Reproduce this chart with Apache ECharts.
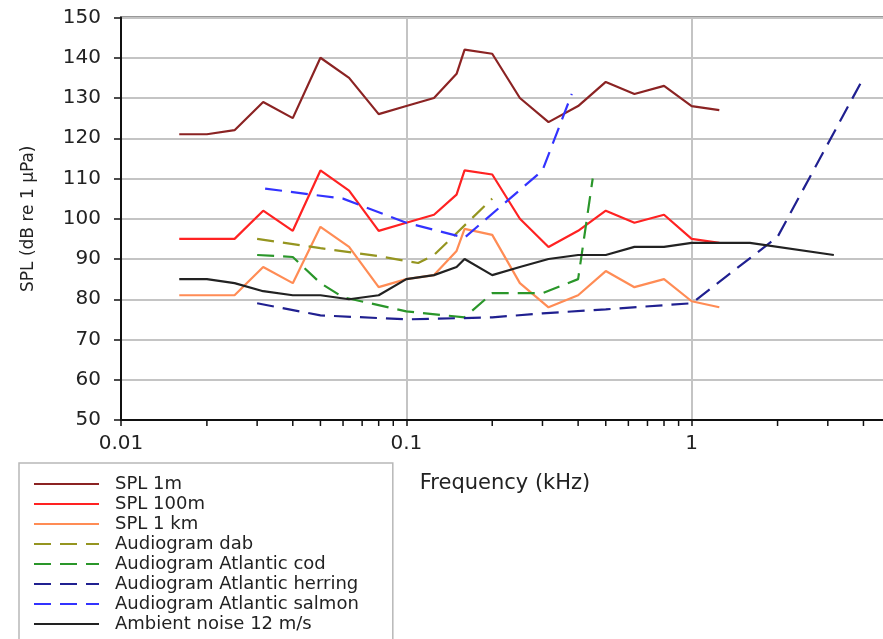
<!DOCTYPE html>
<html>
<head>
<meta charset="utf-8">
<script src="https://cdn.jsdelivr.net/npm/echarts@6/dist/echarts.min.js"></script>
<style>
html,body{margin:0;padding:0;background:#fff;}
#chart{width:883px;height:639px;}
</style>
</head>
<body>
<div id="chart"></div>
<script>
// Frequencies in kHz
const splFreq = [0.016,0.02,0.025,0.0315,0.04,0.05,0.063,0.08,0.1,0.125,0.15,0.16,0.2,0.25,0.315,0.4,0.5,0.63,0.8,1,1.25];
const spl1m   = [121,121,122,129,125,140,135,126,128,130,136,142,141,130,124,128,134,131,133,128,127];
const spl100m = [95,95,95,102,97,112,107,97,99,101,106,112,111,100,93,97,102,99,101,95,94];
const spl1km  = [81,81,81,88,84,98,93,83,85,86,92,97.5,96,84,78,81,87,83,85,79.5,78];

const dabFreq = [0.03,0.05,0.08,0.11,0.125,0.2];
const dab     = [95,92.7,90.7,89,91,105];

const codFreq = [0.03,0.04,0.05,0.06,0.1,0.16,0.2,0.3,0.4,0.45];
const cod     = [91,90.5,84,80.5,77,75.5,81.5,81.5,85,110];

const herringFreq = [0.03,0.05,0.1,0.2,0.3,0.5,1,2,4];
const herring     = [79,76,75,75.5,76.5,77.5,79,95.5,135];

const salmonFreq = [0.032,0.06,0.1,0.16,0.3,0.38];
const salmon     = [107.5,105,99,95.3,112,131];

const ambientFreq = [0.016,0.02,0.025,0.0315,0.04,0.05,0.063,0.08,0.1,0.125,0.15,0.16,0.2,0.25,0.315,0.4,0.5,0.63,0.8,1,1.25,1.6,3.15];
const ambient     = [85,85,84,82,81,81,80,81,85,86,88,90,86,88,90,91,91,93,93,94,94,94,91];

const minorTickValues = [0.02,0.03,0.04,0.05,0.06,0.07,0.08,0.09,0.2,0.3,0.4,0.5,0.6,0.7,0.8,0.9,2,3,4];

const yTicks = {min: 50, max: 150, interval: 10};

const FONT = 'DejaVu Sans';
const pair = (xs, ys) => xs.map((x, i) => [x, ys[i]]);
const DASH = [17, 9];

function lineSeries(name, xs, ys, color, dashed) {
  return {
    name: name,
    type: 'line',
    data: pair(xs, ys),
    symbol: 'none',
    showSymbol: false,
    smooth: false,
    lineStyle: {color: color, width: 2.2, type: dashed ? DASH : 'solid'},
    itemStyle: {color: color, opacity: 0},
    emphasis: {disabled: true},
    z: 3
  };
}

const chart = echarts.init(document.getElementById('chart'));
chart.setOption({
  animation: false,
  backgroundColor: '#fff',
  grid: {
    left: 121, width: 856, top: 17.5, height: 402.5,
    outerBoundsMode: 'none', containLabel: false,
    show: true, borderColor: '#333', borderWidth: 2, backgroundColor: 'transparent'
  },
  legend: {
    orient: 'vertical',
    left: 19, top: 463, height: 220,
    padding: [12, 34, 30, 14],
    itemWidth: 65, itemHeight: 14, itemGap: 2,
    borderColor: '#b8b8b8', borderWidth: 1.5,
    itemStyle: {opacity: 0},
    textStyle: {fontFamily: FONT, fontSize: 18, color: '#222', lineHeight: 16, padding: [0, 0, 0, 11]},
    data: ['SPL 1m','SPL 100m','SPL 1 km','Audiogram dab','Audiogram Atlantic cod','Audiogram Atlantic herring','Audiogram Atlantic salmon','Ambient noise 12 m/s']
  },
  xAxis: {
    type: 'log', logBase: 10, min: 0.01, max: 10,
    name: 'Frequency (kHz)', nameLocation: 'middle', nameGap: 53,
    nameTextStyle: {fontFamily: FONT, fontSize: 21, color: '#222', padding: [0, 88, 0, 0]},
    axisLine: {show: true, onZero: false, lineStyle: {color: '#111', width: 2}},
    axisTick: {show: true, inside: false, length: 6, lineStyle: {color: '#111', width: 1.5}},
    axisLabel: {fontFamily: FONT, fontSize: 20, color: '#222', margin: 14},
    splitLine: {show: true, lineStyle: {color: '#c4c4c4', width: 2}},
    minorTick: {show: false}
  },
  yAxis: {
    type: 'value', min: yTicks.min, max: yTicks.max, interval: yTicks.interval,
    name: 'SPL (dB re 1 µPa)', nameLocation: 'middle', nameGap: 84,
    nameTextStyle: {fontFamily: FONT, fontSize: 17, color: '#222'},
    axisLine: {show: true, lineStyle: {color: '#111', width: 2}},
    axisTick: {show: true, inside: false, length: 7, lineStyle: {color: '#111', width: 1.5}},
    axisLabel: {fontFamily: FONT, fontSize: 20, color: '#222', margin: 20},
    splitLine: {show: true, lineStyle: {color: '#c4c4c4', width: 2}}
  },
  series: [
    lineSeries('SPL 1m', splFreq, spl1m, '#8B2323', false),
    lineSeries('SPL 100m', splFreq, spl100m, '#FF2222', false),
    lineSeries('SPL 1 km', splFreq, spl1km, '#FF8C55', false),
    lineSeries('Audiogram dab', dabFreq, dab, '#959520', true),
    lineSeries('Audiogram Atlantic cod', codFreq, cod, '#2A962A', true),
    lineSeries('Audiogram Atlantic herring', herringFreq, herring, '#202090', true),
    lineSeries('Audiogram Atlantic salmon', salmonFreq, salmon, '#3333FF', true),
    lineSeries('Ambient noise 12 m/s', ambientFreq, ambient, '#222222', false),
    {
      name: 'minorTicks',
      type: 'custom',
      silent: true,
      clip: false,
      data: minorTickValues.map(v => [v, yTicks.min]),
      renderItem: function (params, api) {
        const p = api.coord([api.value(0), api.value(1)]);
        return {
          type: 'line',
          shape: {x1: p[0], y1: p[1], x2: p[0], y2: p[1] + 6},
          style: {stroke: '#111', lineWidth: 1.5}
        };
      },
      z: 4
    }
  ]
});
</script>
</body>
</html>
